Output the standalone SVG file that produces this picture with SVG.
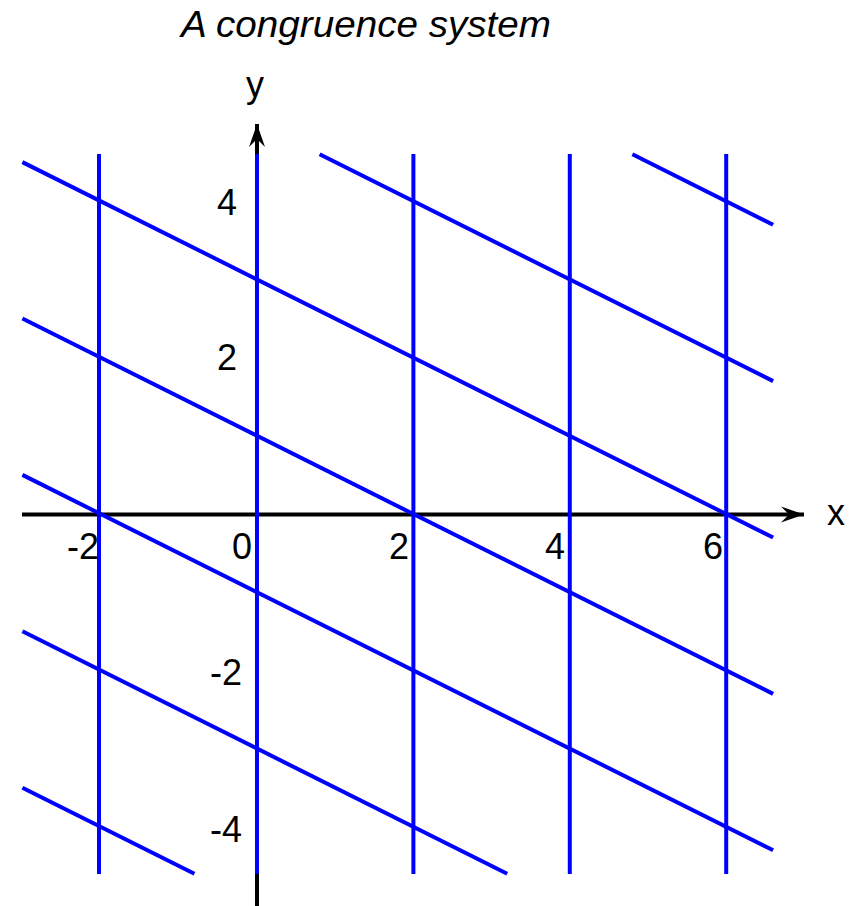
<svg xmlns="http://www.w3.org/2000/svg" width="859" height="906" viewBox="0 0 859 906">
<defs>
<style>
.axis{stroke:#000;stroke-width:4;fill:none}
.ln{stroke:#0000ff;stroke-width:4;fill:none}
.lbl{font-family:"Liberation Sans",Arial,sans-serif;font-size:36px;fill:#000}
.end{text-anchor:end}
.title{font-family:"Liberation Sans",Arial,sans-serif;font-size:37px;font-style:italic;fill:#000}
</style>
<marker id="arr" markerUnits="userSpaceOnUse" markerWidth="26" markerHeight="18" viewBox="0 -9 26 18" refX="23" refY="0" orient="auto">
<path d="M23,0 L0,-8 L8,0 L0,8 Z" fill="#000"/>
</marker>
</defs>
<rect width="859" height="906" fill="#fff"/>
<text class="title" x="181" y="37" textLength="370" lengthAdjust="spacingAndGlyphs">A congruence system</text>
<g id="axes">
<line class="axis" x1="22" y1="514.5" x2="804" y2="514.5" marker-end="url(#arr)"/>
<line class="axis" x1="257" y1="906" x2="257" y2="124" marker-end="url(#arr)"/>
<text class="lbl" x="827" y="525">x</text>
<text class="lbl" x="246" y="97">y</text>
</g>
<g id="lines">
<line class="ln" x1="99" y1="154" x2="99" y2="874"/>
<line class="ln" x1="257" y1="154" x2="257" y2="874"/>
<line class="ln" x1="413.4" y1="154" x2="413.4" y2="874"/>
<line class="ln" x1="569.8" y1="154" x2="569.8" y2="874"/>
<line class="ln" x1="726.2" y1="154" x2="726.2" y2="874"/>
<line class="ln" x1="632.4" y1="154.3" x2="773.1" y2="224.7"/>
<line class="ln" x1="319.6" y1="154.3" x2="773.1" y2="381.1"/>
<line class="ln" x1="22.4" y1="162.1" x2="773.1" y2="537.5"/>
<line class="ln" x1="22.4" y1="318.5" x2="773.1" y2="693.9"/>
<line class="ln" x1="22.4" y1="474.9" x2="773.1" y2="850.3"/>
<line class="ln" x1="22.4" y1="631.3" x2="507.2" y2="873.7"/>
<line class="ln" x1="22.4" y1="787.7" x2="194.4" y2="873.7"/>
</g>
<g id="ticks">
<text class="lbl end" x="99" y="559">-2</text>
<text class="lbl end" x="252" y="559">0</text>
<text class="lbl end" x="409" y="559">2</text>
<text class="lbl end" x="565" y="559">4</text>
<text class="lbl end" x="723" y="559">6</text>
<text class="lbl end" x="237" y="215">4</text>
<text class="lbl end" x="237" y="370">2</text>
<text class="lbl end" x="242" y="685">-2</text>
<text class="lbl end" x="242" y="842">-4</text>
</g>
</svg>
